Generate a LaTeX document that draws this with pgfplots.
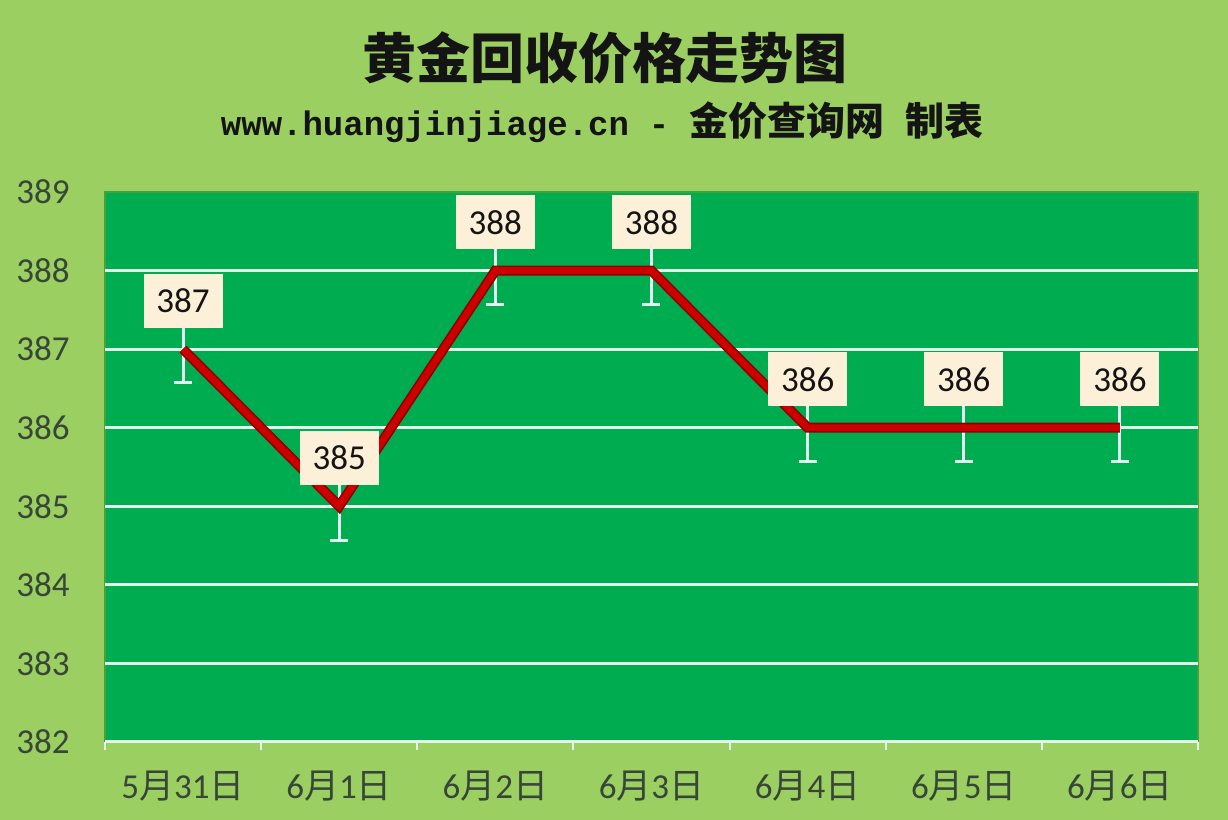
\documentclass[border=0pt]{standalone}
\usepackage{fontspec}
\usepackage{pgfplots}
\pgfplotsset{compat=1.18}
\setmainfont{Carlito}
\newfontfamily\cjk{Noto Sans CJK SC}
\newfontfamily\monob{Liberation Mono}

\definecolor{bggreen}{RGB}{155,207,98}
\definecolor{plotgreen}{RGB}{0,172,80}
\definecolor{borderg}{RGB}{70,160,60}
\definecolor{gridwhite}{RGB}{228,246,236}
\definecolor{errcol}{RGB}{225,246,240}
\definecolor{linered}{RGB}{205,0,0}
\definecolor{darkred}{RGB}{140,0,0}
\definecolor{boxcol}{RGB}{252,240,216}
\definecolor{tickcol}{RGB}{55,70,55}
\definecolor{titlecol}{RGB}{20,20,20}

\begin{document}
\begin{tikzpicture}[x=1pt,y=1pt]
\useasboundingbox (0,0) rectangle (614,410);
\fill[bggreen] (0,0) rectangle (614,410);
\node[font=\cjk\bfseries\fontsize{27}{30}\selectfont, text=titlecol] at (302.5,381) {黄金回收价格走势图};
\node[font=\bfseries, text=titlecol, inner sep=0pt] at (301,349)
  {{\monob\fontsize{17}{20}\selectfont www.huangjinjiage.cn}%
   \makebox[30pt]{\monob\fontsize{17}{20}\selectfont -}%
   {\cjk\fontsize{19.5}{22}\selectfont 金价查询网}\hspace{10.5pt}%
   {\cjk\fontsize{19.5}{22}\selectfont 制表}};
\begin{axis}[
    at={(52.5pt,39pt)}, anchor=south west,
    scale only axis, width=546.5pt, height=275pt,
    xmin=-0.5, xmax=6.5, ymin=382, ymax=389,
    xtick={0,...,6},
    xticklabels={5{\cjk 月}31{\cjk 日}, 6{\cjk 月}1{\cjk 日}, 6{\cjk 月}2{\cjk 日},
                 6{\cjk 月}3{\cjk 日}, 6{\cjk 月}4{\cjk 日}, 6{\cjk 月}5{\cjk 日}, 6{\cjk 月}6{\cjk 日}},
    minor xtick={-0.5,0.5,...,6.5},
    xtick pos=left, ytick pos=left,
    major tick length=0pt, minor tick length=4pt, tick align=outside,
    minor tick style={draw=gridwhite, line width=1pt},
    ytick={382,...,388}, extra y ticks={389}, extra y tick style={ymajorgrids=false},
    ymajorgrids, major grid style={draw=gridwhite, line width=1.5pt},
    axis line style={draw=none},
    axis background/.style={fill=plotgreen, draw=borderg, line width=0.75pt},
    ticklabel style={font=\fontsize{17.5}{20}\selectfont, text=tickcol},
    yticklabel style={anchor=east, inner sep=0pt, xshift=-17.5pt},
    xticklabel style={anchor=base, inner sep=0pt, yshift=-28.5pt},
    /pgf/number format/assume math mode=true,
    clip=false,
]
% error bars (under the line)
\addplot[draw=none, mark=none,
    error bars/.cd, y dir=both, y fixed=0.43,
    error mark=-,
    error bar style={draw=errcol, line width=1.5pt},
    error mark options={draw=errcol, rotate=90, mark size=4.5pt, line width=1.5pt}]
    coordinates {(0,387) (1,385) (2,388) (3,388) (4,386) (5,386) (6,386)};
% line with darker edge
\addplot[darkred, line width=5pt, mark=none]
    coordinates {(0,387) (1,385) (2,388) (3,388) (4,386) (5,386) (6,386)};
\addplot[linered, line width=3.4pt, mark=none,
    nodes near coords,
    every node near coord/.append style={fill=boxcol, text=titlecol,
        font=\fontsize{17.5}{20}\selectfont, minimum width=39.5pt, minimum height=27pt,
        inner sep=0pt, anchor=south, yshift=9pt}]
    coordinates {(0,387) (1,385) (2,388) (3,388) (4,386) (5,386) (6,386)};
\end{axis}
\end{tikzpicture}
\end{document}
